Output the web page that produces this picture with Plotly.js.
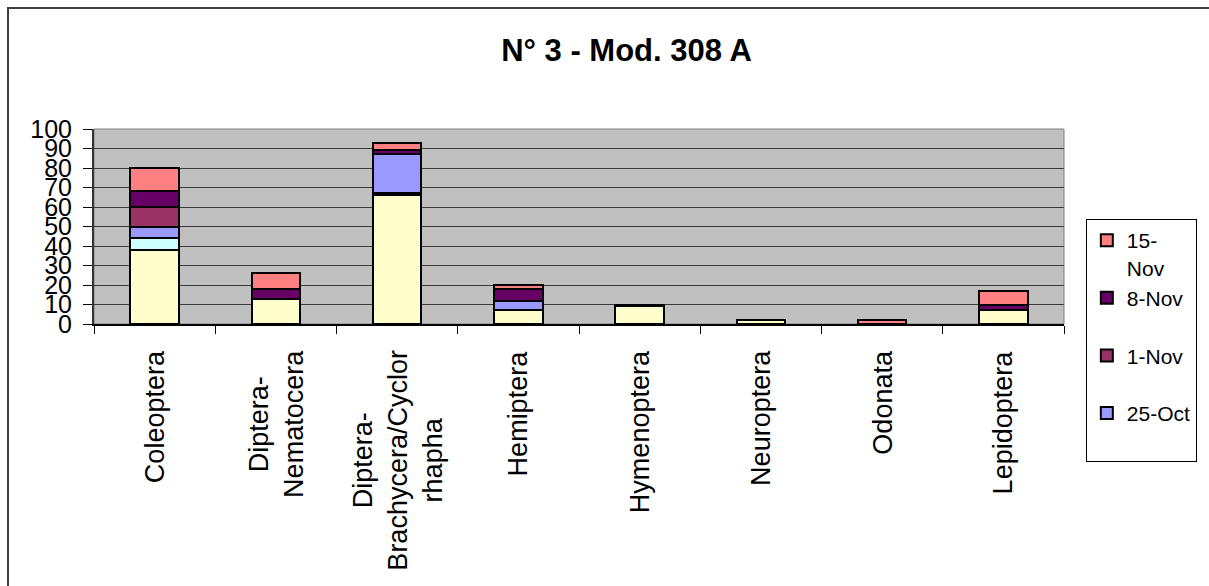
<!DOCTYPE html>
<html>
<head>
<meta charset="utf-8">
<script src="https://cdn.plot.ly/plotly-3.0.1.min.js"></script>
<style>
html,body{margin:0;padding:0;background:#fff;}
#wrap{position:relative;width:1209px;height:586px;overflow:hidden;}
#chart{position:absolute;left:0;top:0;width:1209px;height:586px;}
#frame{position:absolute;left:7px;top:7px;width:1210px;height:590px;border-left:2px solid #404040;border-top:2px solid #404040;pointer-events:none;}
</style>
</head>
<body>
<div id="wrap"><div id="chart"></div><div id="frame"></div></div>
<script>
const categories = ['Coleoptera','Diptera-<br>Nematocera','Diptera-<br>Brachycera/Cyclor<br>rhapha','Hemiptera','Hymenoptera','Neuroptera','Odonata','Lepidoptera'];
const seriesNames = ['11-Oct','18-Oct','25-Oct','1-Nov','8-Nov','15-Nov'];
const oct11 = [38, 13, 66, 7, 9, 2, 0, 7];
const oct18 = [6, 0, 1, 0, 0, 0, 0, 0];
const oct25 = [6, 0, 20, 5, 0, 0, 0, 0];
const nov1  = [10, 0, 0, 0, 0, 0, 0, 0];
const nov8  = [8, 5, 2, 6, 1, 0, 0, 3];
const nov15 = [12, 8, 4, 2, 0, 0, 2, 7];
const yTicks = [0,10,20,30,40,50,60,70,80,90,100];
const legendLabels = ['', '', '25-Oct<br> ', '1-Nov<br> ', '8-Nov<br> ', '15-<br>Nov'];
const colors = ['#FFFFCC','#CCFFFF','#9999FF','#993366','#660066','#FF8080'];
const values = [oct11, oct18, oct25, nov1, nov8, nov15];

const traces = values.map((v, i) => ({
  type: 'bar',
  x: categories,
  y: v,
  name: legendLabels[i] || seriesNames[i],
  showlegend: i >= 2,
  legendgroup: seriesNames[i],
  marker: {color: colors[i], line: {color: '#000', width: 2}},
  hoverinfo: 'x+y+name'
}));

const annotations = categories.map(c => ({
  xref: 'x', yref: 'paper', x: c, y: 0, yshift: -24,
  text: c, showarrow: false, textangle: -90,
  xanchor: 'center', yanchor: 'top', align: 'center',
  font: {family: 'Liberation Sans, Arial, sans-serif', size: 27, color: '#000'}
}));

const layout = {
  width: 1209, height: 586,
  margin: {l: 94, r: 139, t: 129, b: 262, pad: 0},
  paper_bgcolor: '#fff',
  plot_bgcolor: '#C0C0C0',
  barmode: 'stack',
  bargap: 0.6,
  font: {family: 'Liberation Sans, Arial, sans-serif', color: '#000'},
  title: {
    text: '<b>N° 3 - Mod. 308 A</b>',
    font: {family: 'Liberation Sans, Arial, sans-serif', size: 31, color: '#000'},
    xref: 'paper', x: 0.549, xanchor: 'center',
    yref: 'container', y: 0.915, yanchor: 'middle'
  },
  xaxis: {
    type: 'category',
    showticklabels: false,
    ticks: 'outside', tickson: 'boundaries', ticklen: 8, tickwidth: 1, tickcolor: '#000',
    showline: true, linecolor: '#000', linewidth: 1.5,
    showgrid: false, zeroline: false, fixedrange: true
  },
  yaxis: {
    range: [0, 100],
    tickvals: yTicks,
    ticktext: yTicks.map(String),
    ticks: 'outside', ticklen: 9, tickwidth: 1, tickcolor: '#000',
    tickfont: {family: 'Liberation Sans, Arial, sans-serif', size: 25, color: '#000'},
    ticklabelstandoff: 6,
    showline: true, linecolor: '#333', linewidth: 2,
    showgrid: true, gridcolor: '#3a3a3a', gridwidth: 1,
    zeroline: false, fixedrange: true
  },
  legend: {
    x: 1.0225, xanchor: 'left', y: 0.538, yanchor: 'top',
    maxheight: 500,
    bgcolor: '#fff', bordercolor: '#000', borderwidth: 1,
    font: {family: 'Liberation Sans, Arial, sans-serif', size: 21, color: '#000'},
    traceorder: 'reversed', valign: 'top', tracegroupgap: 0
  },
  shapes: [{
    type: 'rect', xref: 'paper', yref: 'paper', x0: 0, x1: 1, y0: 0, y1: 1,
    line: {color: '#808080', width: 1}, layer: 'below'
  }],
  annotations: annotations
};

Plotly.newPlot('chart', traces, layout, {displayModeBar: false, staticPlot: true});
</script>
</body>
</html>
